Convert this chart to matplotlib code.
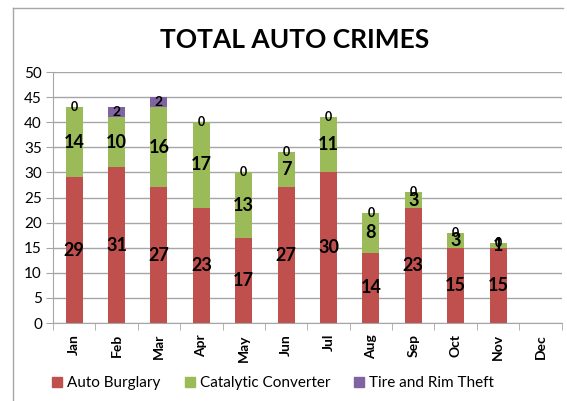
import numpy as np
import matplotlib
matplotlib.use("Agg")
import matplotlib.pyplot as plt
from matplotlib.lines import Line2D

plt.rcParams['font.family'] = ['Lato', 'DejaVu Sans']

months = ['Jan', 'Feb', 'Mar', 'Apr', 'May', 'Jun', 'Jul', 'Aug', 'Sep', 'Oct', 'Nov', 'Dec']
auto_burglary = [29, 31, 27, 23, 17, 27, 30, 14, 23, 15, 15, np.nan]
catalytic = [14, 10, 16, 17, 13, 7, 11, 8, 3, 3, 1, np.nan]
tire_rim = [0, 2, 2, 0, 0, 0, 0, 0, 0, 0, 0, np.nan]

series = [
    ('Auto Burglary', auto_burglary, '#C0504D', 13),
    ('Catalytic Converter', catalytic, '#9BBB59', 13),
    ('Tire and Rim Theft', tire_rim, '#8064A2', 10),
]

fig = plt.figure(figsize=(5.67, 4.01), dpi=100)
ax = fig.add_axes([0.0935, 0.1945, 0.897, 0.6259])

x = np.arange(len(months))
bottom = np.zeros(len(months))
for name, vals, color, fs in series:
    v = np.array(vals, dtype=float)
    ax.bar(x, np.nan_to_num(v), 0.4, bottom=bottom, color=color, label=name, zorder=2)
    for i, val in enumerate(v):
        if np.isnan(val):
            continue
        size = fs if val != 0 else 9
        ax.text(x[i], bottom[i] + val / 2, f'{int(val)}', ha='center', va='center',
                fontsize=size, fontweight='bold', color='black', zorder=3)
    bottom = bottom + np.nan_to_num(v)

# 坐标轴
ax.set_xlim(-0.5, len(months) - 0.5)
ax.set_ylim(0, 50)
ax.set_yticks(range(0, 51, 5))
ax.yaxis.grid(True, color='#A6A6A6', linewidth=1, zorder=0)
ax.set_axisbelow(True)
for s in ['top', 'right']:
    ax.spines[s].set_visible(False)
for s in ['left', 'bottom']:
    ax.spines[s].set_color('#A6A6A6')
ax.tick_params(axis='y', labelsize=11, length=5, color='#A6A6A6', pad=3)
ax.set_xticks(x)
ax.set_xticklabels(months, rotation=90, fontsize=10, fontweight='bold')
ax.set_xticks(np.arange(-0.5, len(months)), minor=True)
ax.tick_params(axis='x', which='major', length=0, pad=8)
ax.tick_params(axis='x', which='minor', length=5, color='#A6A6A6')

fig.suptitle('TOTAL AUTO CRIMES', x=0.52, y=0.93, fontsize=19, fontweight='bold')

handles = [Line2D([], [], marker='s', linestyle='none', markersize=7,
                  markerfacecolor=c, markeredgecolor=c) for _, _, c, _ in series]
fig.legend(handles, [n for n, _, _, _ in series], loc='center', bbox_to_anchor=(0.482, 0.045),
           ncol=3, frameon=False, fontsize=11, handlelength=0.6, handletextpad=0.35,
           columnspacing=1.6)

# 图表边框
fig.add_artist(Line2D([13 / 567, 13 / 567], [0, 1 - 8 / 401], transform=fig.transFigure,
                      color='#A6A6A6', linewidth=1))
fig.add_artist(Line2D([13 / 567, 563 / 567], [1 - 8 / 401, 1 - 8 / 401], transform=fig.transFigure,
                      color='#A6A6A6', linewidth=1))

fig.savefig('out.png', dpi=100)
